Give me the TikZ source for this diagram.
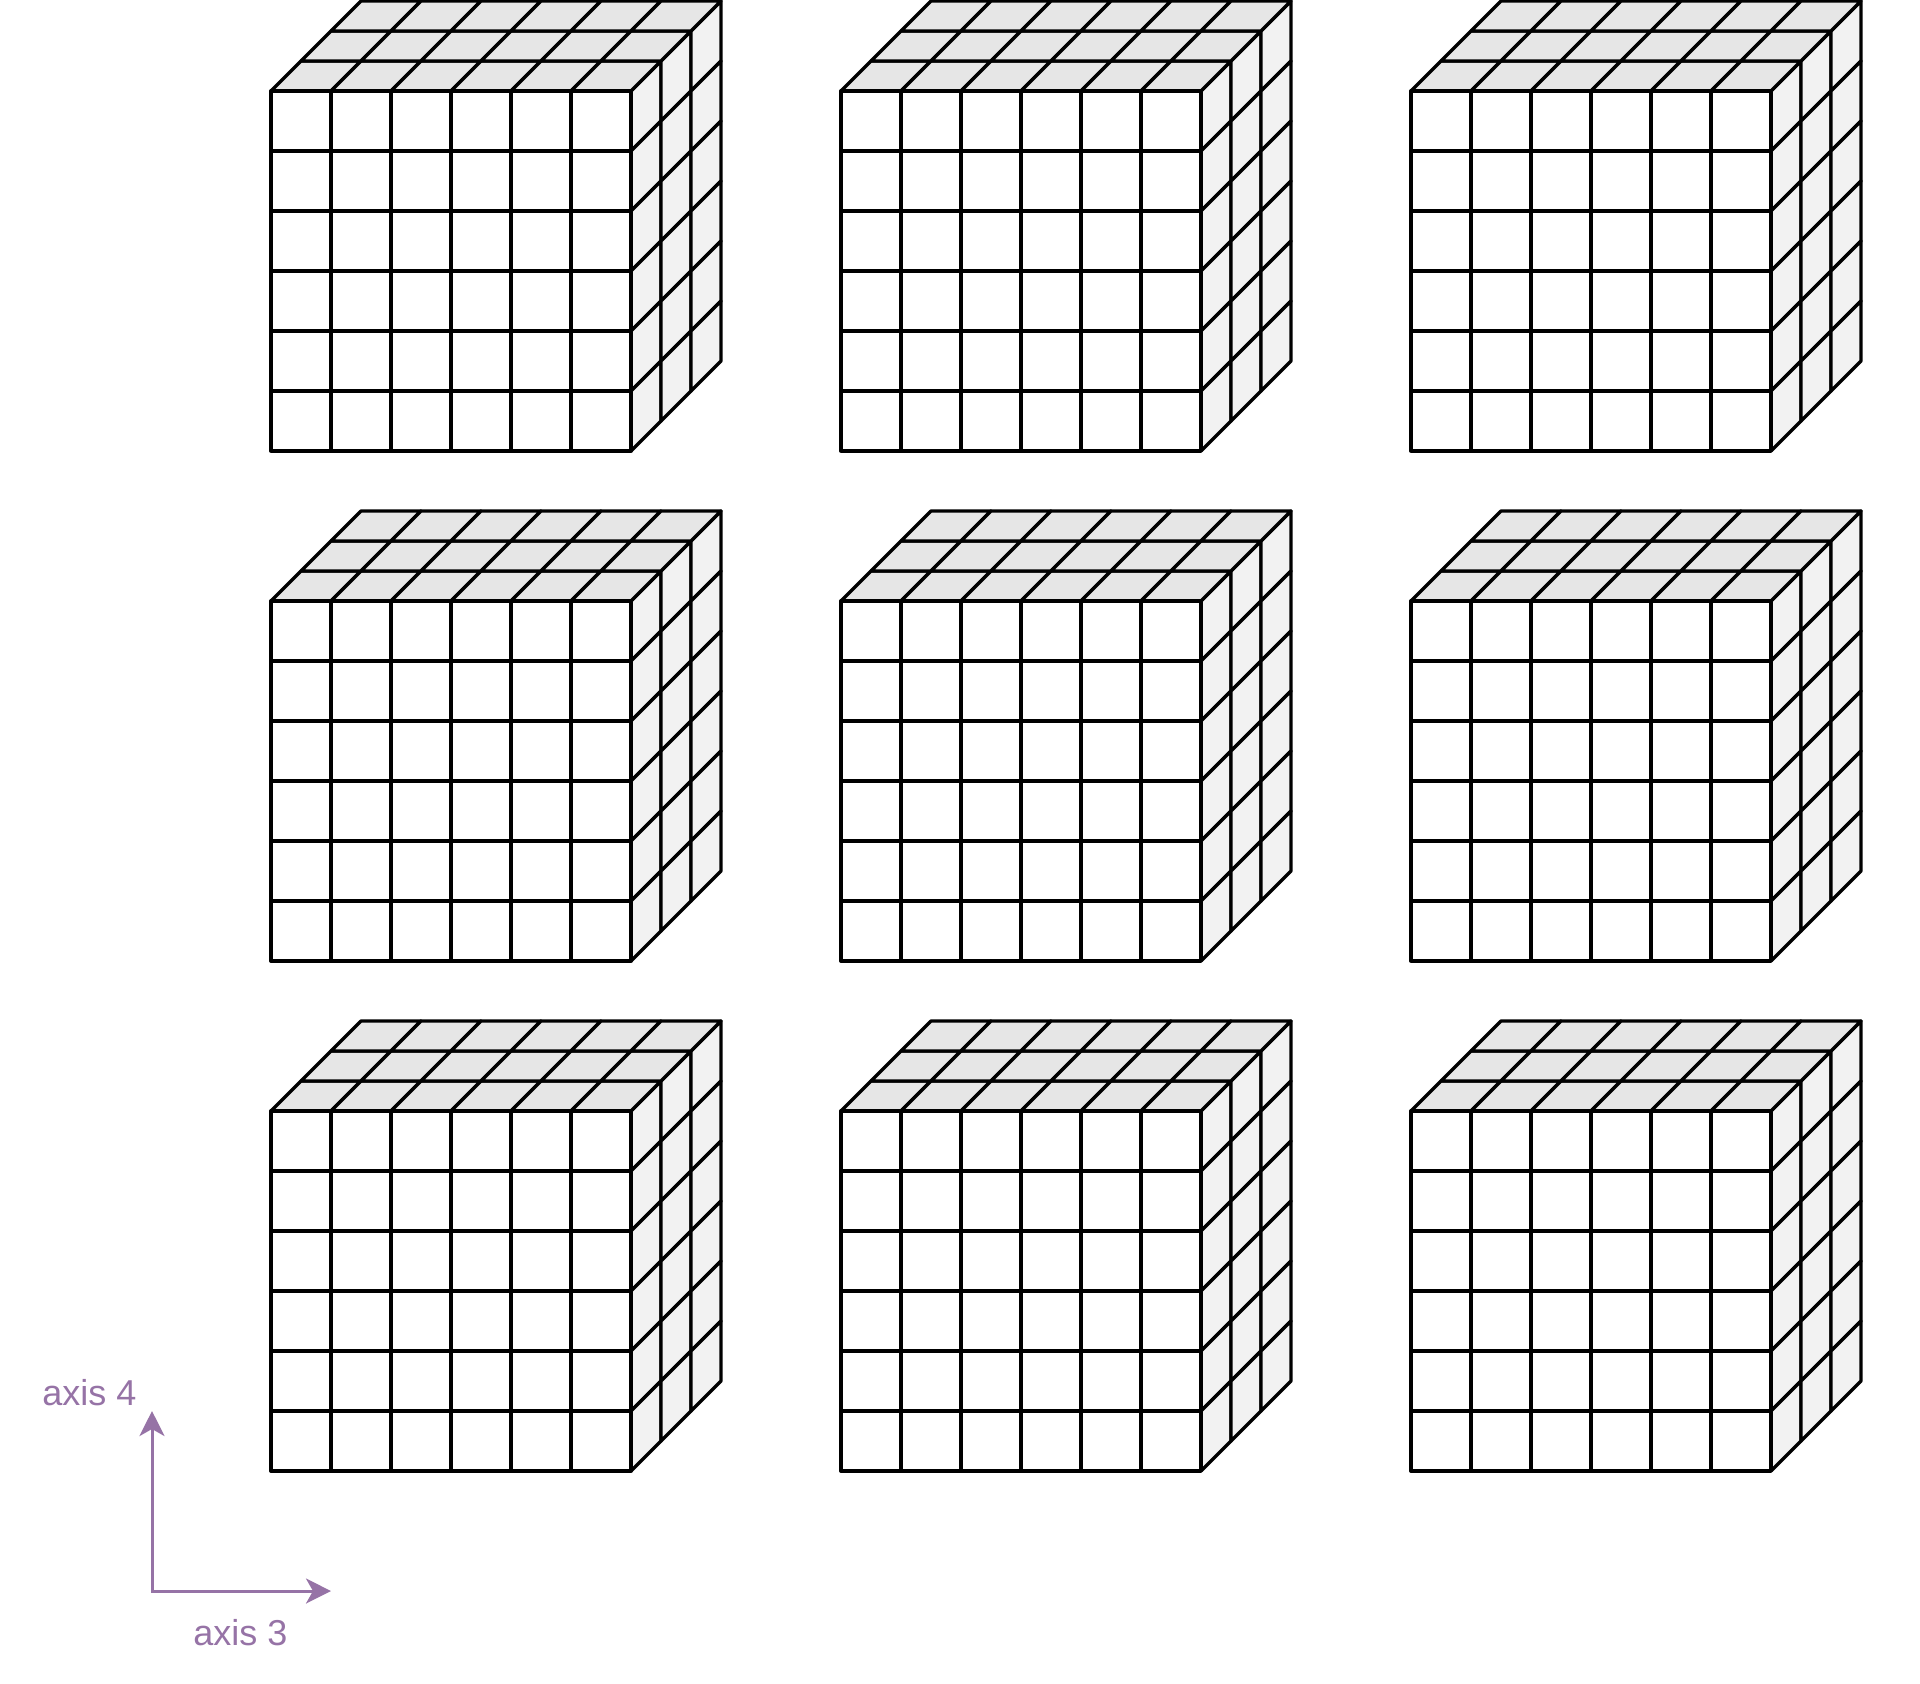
\documentclass[tikz,border=0pt]{standalone}
\usepackage{fontspec}
\setmainfont{Liberation Sans}
\usetikzlibrary{arrows.meta}
\definecolor{axpurple}{HTML}{9673A6}
\definecolor{topgray}{HTML}{E6E6E6}
\definecolor{sidegray}{HTML}{F2F2F2}
\tikzset{
  cell/.style={draw=black, line width=1.65pt, line join=round},
  axisline/.style={draw=axpurple, line width=1.5pt, line join=miter,
    {Stealth[length=12.5pt,width=12.5pt,inset=3.5pt]}-{Stealth[length=12.5pt,width=12.5pt,inset=3.5pt]}},
  axislabel/.style={text=axpurple, font=\fontsize{18pt}{21pt}\selectfont, inner sep=0pt, anchor=base}
}
\newcommand{\drawcube}[2]{%
  \begin{scope}[shift={(#1,#2)}]
    \foreach \d in {0,1,2}{
      \foreach \i in {0,...,5}{
        \filldraw[cell, fill=topgray] ({60*\i+30*\d},{-30*\d}) -- ++(60,0) -- ++(30,-30) -- ++(-60,0) -- cycle;
        \filldraw[cell, fill=sidegray] ({360+30*\d},{60*\i-30*\d}) -- ++(30,-30) -- ++(0,60) -- ++(-30,30) -- cycle;
      }
    }
    \filldraw[cell, fill=white] (0,0) rectangle (360,360);
    \foreach \k in {60,120,...,300}{
      \draw[cell] (\k,0) -- (\k,360);
      \draw[cell] (0,\k) -- (360,\k);
    }
  \end{scope}}
\begin{document}
\begin{tikzpicture}[x=0.5pt,y=-0.5pt]
  \useasboundingbox (0,0) rectangle (1920,1683);
  \foreach \c in {0,1,2}{
    \foreach \r in {0,1,2}{
      \drawcube{271+570*\c}{91+510*\r}
    }
  }
  \coordinate (o) at (152,1591);
  \coordinate (a4) at (152,1411);
  \coordinate (a3) at (331,1591);
  \draw[axisline] (a4) -- (o) -- (a3);
  \node[axislabel] (l4) at (89.5,1405) {axis 4};
  \node[axislabel] (l3) at (240.5,1645) {axis 3};
\end{tikzpicture}
\end{document}
